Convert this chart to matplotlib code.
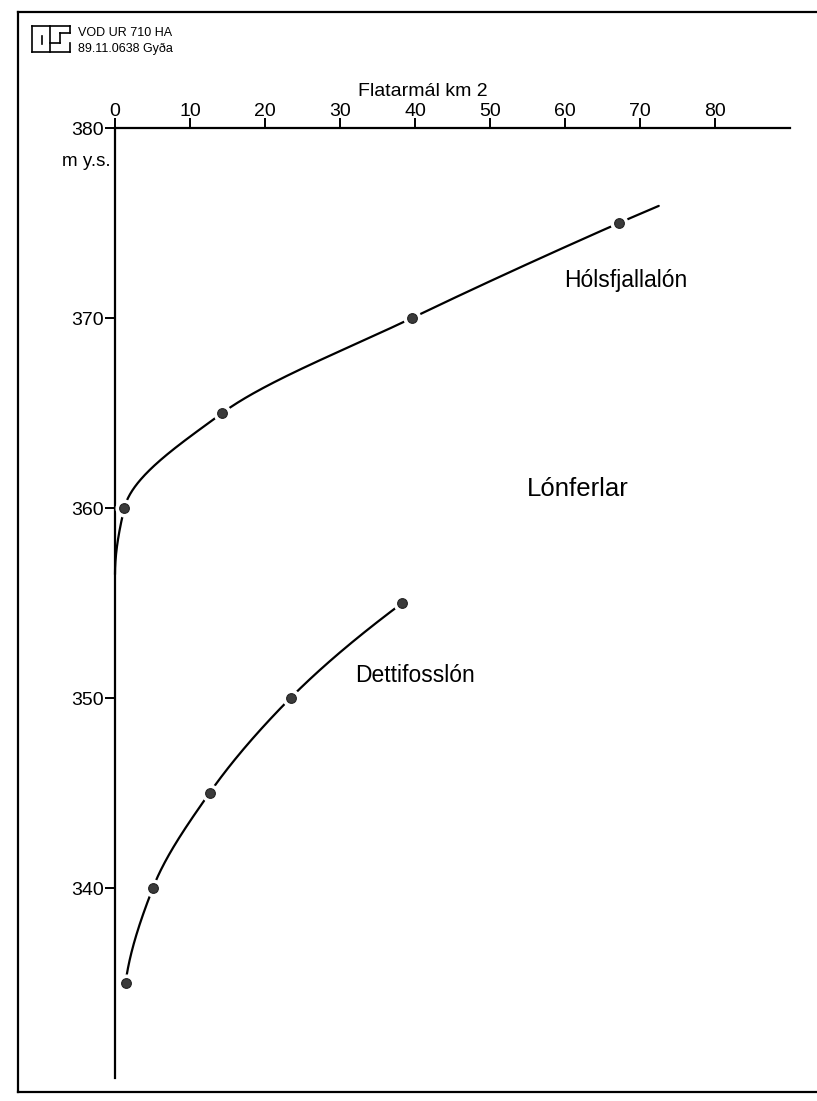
import numpy as np
import matplotlib
matplotlib.use("Agg")
import matplotlib.pyplot as plt
from matplotlib.lines import Line2D

plt.rcParams['font.family'] = ['Liberation Sans', 'DejaVu Sans']

# Reservoir area (km2) against water level (m y.s.)
hols_level = [360, 365, 370, 375]
hols_area = [1.25, 14.3, 39.6, 67.2]
# where the drawn Hólsfjallalón curve starts and ends
hols_curve_start = (0.0, 356.5)
hols_curve_end = (72.5, 375.9)

dett_level = [335, 340, 345, 350, 355]
dett_area = [1.4, 5.05, 12.6, 23.4, 38.3]

x_ticks = [0, 10, 20, 30, 40, 50, 60, 70, 80]
y_ticks = [340, 350, 360, 370, 380]

W, H = 817, 1101
DPI = 100


def pchip(xk, yk, xs):
    """Monotone piecewise cubic Hermite interpolation."""
    xk = np.asarray(xk, float)
    yk = np.asarray(yk, float)
    h = np.diff(xk)
    d = np.diff(yk) / h
    n = len(xk)
    m = np.zeros(n)
    for i in range(1, n - 1):
        if d[i - 1] * d[i] > 0:
            w1 = 2 * h[i] + h[i - 1]
            w2 = h[i] + 2 * h[i - 1]
            m[i] = (w1 + w2) / (w1 / d[i - 1] + w2 / d[i])
    m[0] = ((2 * h[0] + h[1]) * d[0] - h[0] * d[1]) / (h[0] + h[1]) if n > 2 else d[0]
    if np.sign(m[0]) != np.sign(d[0]):
        m[0] = 0
    m[-1] = ((2 * h[-1] + h[-2]) * d[-1] - h[-1] * d[-2]) / (h[-1] + h[-2]) if n > 2 else d[-1]
    if np.sign(m[-1]) != np.sign(d[-1]):
        m[-1] = 0
    out = np.empty_like(xs, dtype=float)
    idx = np.clip(np.searchsorted(xk, xs) - 1, 0, n - 2)
    for j, x in enumerate(xs):
        i = idx[j]
        t = (x - xk[i]) / h[i]
        h00 = 2 * t**3 - 3 * t**2 + 1
        h10 = t**3 - 2 * t**2 + t
        h01 = -2 * t**3 + 3 * t**2
        h11 = t**3 - t**2
        out[j] = h00 * yk[i] + h10 * h[i] * m[i] + h01 * yk[i + 1] + h11 * h[i] * m[i + 1]
    return out


fig = plt.figure(figsize=(W / DPI, H / DPI), dpi=DPI)


def fx(px):
    return px / W


def fy(py):
    return 1 - py / H


# main axes: x from 0 to 90 km2, y from 330 to 380 m
ax = fig.add_axes([fx(115), fy(1078), (790 - 115) / W, (1078 - 128) / H])
ax.set_xlim(0, 90)
ax.set_ylim(330, 380)

for s in ['right', 'bottom']:
    ax.spines[s].set_visible(False)
ax.spines['top'].set_linewidth(1.6)
ax.spines['left'].set_linewidth(1.6)
ax.xaxis.set_ticks_position('top')
ax.set_xticks(x_ticks)
ax.set_yticks(y_ticks)
ax.tick_params(axis='x', direction='out', length=7, width=1.4, pad=-1, labelsize=14)
ax.tick_params(axis='y', direction='out', length=7, width=1.4, pad=1, labelsize=14)

# axis title above the tick labels
ax.text(41.0, 380 + 32 / 19, 'Flatarmál km 2', fontsize=14,
        ha='center', va='baseline', clip_on=False)

# Hólsfjallalón curve
hk_level = [hols_curve_start[1]] + hols_level + [hols_curve_end[1]]
hk_area = [hols_curve_start[0]] + hols_area + [hols_curve_end[0]]
lv = np.linspace(hk_level[0], hk_level[-1], 400)
ax.plot(pchip(hk_level, hk_area, lv), lv, color='black', lw=1.6,
        solid_capstyle='round', clip_on=False, zorder=2)

# Dettifosslón curve
lv2 = np.linspace(dett_level[0], dett_level[-1], 300)
ax.plot(pchip(dett_level, dett_area, lv2), lv2, color='black', lw=1.6,
        solid_capstyle='round', clip_on=False, zorder=2)

# measured points with a white halo breaking the curve
for a, l in [(hols_area, hols_level), (dett_area, dett_level)]:
    ax.plot(a, l, 'o', ms=12, color='white', zorder=3, clip_on=False)
    ax.plot(a, l, 'o', ms=7, color='#3a3a3a', mec='#222222', mew=0.8,
            zorder=4, clip_on=False)

# curve names
ax.text(59.9, 372.0, 'Hólsfjallalón', fontsize=16.5, ha='left', va='center')
ax.text(54.9, 361.0, 'Lónferlar', fontsize=18.5, ha='left', va='center')
ax.text(32.0, 351.2, 'Dettifosslón', fontsize=16.5, ha='left', va='center')

# unit label under the 380 tick
fig.text(fx(111), fy(162), 'm y.s.', fontsize=13.5, ha='right', va='center')

# sheet frame
frame_kw = dict(color='black', lw=1.6, transform=fig.transFigure)
fig.add_artist(Line2D([fx(18), fx(18)], [fy(12), fy(1092)], **frame_kw))
fig.add_artist(Line2D([fx(18), fx(817)], [fy(12), fy(12)], **frame_kw))
fig.add_artist(Line2D([fx(18), fx(817)], [fy(1092), fy(1092)], **frame_kw))

# office logo
logo_kw = dict(color='black', lw=1.2, transform=fig.transFigure)
for (x0, y0), (x1, y1) in [((32, 26), (70, 26)), ((32, 52), (70, 52)),
                           ((32, 26), (32, 52)), ((70, 26), (70, 33)),
                           ((50, 26), (50, 52)), ((42, 36), (42, 44)),
                           ((60, 33), (70, 33)), ((50, 43), (60, 43)),
                           ((60, 33), (60, 43)), ((70, 43), (70, 52))]:
    fig.add_artist(Line2D([fx(x0), fx(x1)], [fy(y0), fy(y1)], **logo_kw))

fig.text(fx(78), fy(33), 'VOD UR 710 HA', fontsize=9, ha='left', va='center')
fig.text(fx(78), fy(49), '89.11.0638 Gyða', fontsize=9, ha='left', va='center')

fig.savefig('out.png', dpi=DPI)
